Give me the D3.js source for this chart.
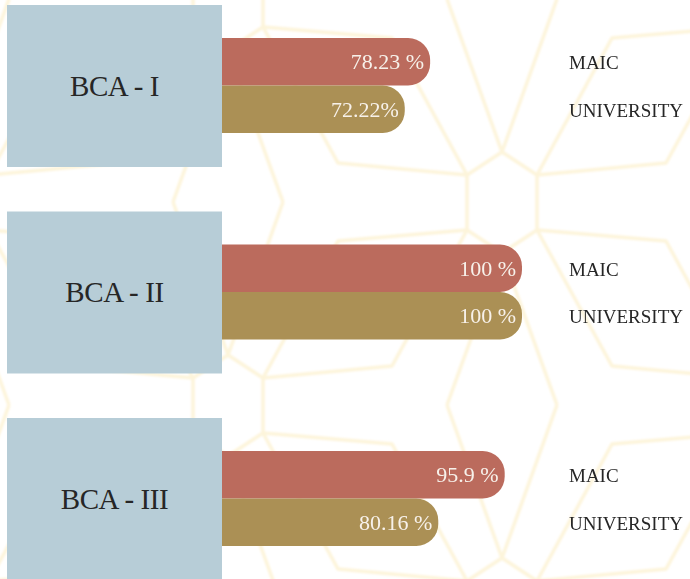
<!DOCTYPE html>
<html>
<head>
<meta charset="utf-8">
<script src="https://cdn.jsdelivr.net/npm/d3@7"></script>
<style>
  body { margin: 0; background: #ffffff; }
  svg { display: block; }
</style>
</head>
<body>
<div id="chart"></div>
<script>
// pass percentages per class
var classes = ["BCA - I", "BCA - II", "BCA - III"];
var series = ["MAIC", "UNIVERSITY"];
var maicPass = [78.23, 100, 95.9];
var universityPass = [72.22, 100, 80.16];
var maicLabels = ["78.23 %", "100 %", "95.9 %"];
var universityLabels = ["72.22%", "100 %", "80.16 %"];

var width = 690,
    height = 579;

var colors = { "MAIC": "#bb6b5d", "UNIVERSITY": "#ab9055" };

var rows = classes.map(function(c, i) {
    return {
        name: c,
        bars: [
            { key: "MAIC", value: maicPass[i], label: maicLabels[i] },
            { key: "UNIVERSITY", value: universityPass[i], label: universityLabels[i] }
        ]
    };
});

var svg = d3.select("#chart").append("svg")
    .attr("width", width)
    .attr("height", height);

svg.append("defs").append("filter")
    .attr("id", "soft")
    .append("feGaussianBlur")
    .attr("stdDeviation", 0.9);

// faint background pattern (hexagon flowers on a lattice)
var hex = [[0,-50],[35,-27],[35,28],[0,51],[-35,28],[-35,-27],[0,-50]];
var strokes = [
    hex,
    [[35,-27],[164,-39],[239,-175]],
    [[35,28],[164,39],[239,176]],
    [[-35,-27],[-164,-39],[-239,-175]],
    [[-35,28],[-164,39],[-239,176]],
    [[-55,-203],[0,-50],[55,-203]],
    [[-55,203],[0,51],[55,203]]
];
var centers = [];
for (var j = -2; j <= 4; j++) {
    for (var i = -3; i <= 3; i++) {
        if ((i + j) % 2 === 0) centers.push([502 + 274 * i, 202 + 203 * j]);
    }
}
var line = d3.line();
var bg = svg.append("g").attr("class", "pattern").attr("filter", "url(#soft)");
centers.forEach(function(c) {
    bg.append("g")
        .attr("transform", "translate(" + c[0] + "," + c[1] + ")")
        .selectAll("path")
        .data(strokes)
        .enter().append("path")
        .attr("d", line)
        .attr("fill", "none")
        .attr("stroke", "#fdf4da")
        .attr("stroke-width", 3.5)
        .attr("stroke-linejoin", "round");
});

// scales
var y = d3.scaleBand()
    .domain(classes)
    .range([5, 580])
    .paddingInner(0.2155)
    .paddingOuter(0);

var ySub = d3.scaleBand()
    .domain(series)
    .range([33, 128]);

var x = d3.scaleLinear()
    .domain([0, 100])
    .range([100, 522]);

var boxLeft = 7, boxRight = 222;
var r = 22;

function barPath(d) {
    var x0 = x(0), x1 = x(d.value), h = ySub.bandwidth();
    return "M" + x0 + ",0H" + (x1 - r) +
        "A" + r + "," + r + " 0 0 1 " + x1 + "," + r +
        "V" + (h - r) +
        "A" + r + "," + r + " 0 0 1 " + (x1 - r) + "," + h +
        "H" + x0 + "Z";
}

var group = svg.selectAll(".row")
    .data(rows)
    .enter().append("g")
    .attr("class", "row")
    .attr("transform", function(d) { return "translate(0," + y(d.name) + ")"; });

var bar = group.selectAll(".bar")
    .data(function(d) { return d.bars; })
    .enter().append("g")
    .attr("class", "bar")
    .attr("transform", function(d) { return "translate(0," + ySub(d.key) + ")"; });

bar.append("path")
    .attr("d", barPath)
    .attr("fill", function(d) { return colors[d.key]; });

bar.append("text")
    .attr("x", function(d) { return x(d.value) - 6; })
    .attr("y", ySub.bandwidth() / 2 + 7.5)
    .attr("text-anchor", "end")
    .attr("font-family", "Liberation Serif, serif")
    .attr("font-size", 22)
    .attr("fill", "#f7f1ea")
    .text(function(d) { return d.label; });

bar.append("text")
    .attr("x", 569)
    .attr("y", ySub.bandwidth() / 2 + 7.5)
    .attr("font-family", "Liberation Serif, serif")
    .attr("font-size", 19)
    .attr("fill", "#262626")
    .text(function(d) { return d.key; });

// class boxes drawn over the bar starts
group.append("rect")
    .attr("x", boxLeft)
    .attr("y", 0)
    .attr("width", boxRight - boxLeft)
    .attr("height", y.bandwidth())
    .attr("fill", "#b7cdd7");

group.append("text")
    .attr("x", (boxLeft + boxRight) / 2)
    .attr("y", y.bandwidth() / 2 + 10)
    .attr("text-anchor", "middle")
    .attr("font-family", "Liberation Serif, serif")
    .attr("font-size", 29)
    .attr("letter-spacing", -0.4)
    .attr("fill", "#262626")
    .text(function(d) { return d.name; });
</script>
</body>
</html>
